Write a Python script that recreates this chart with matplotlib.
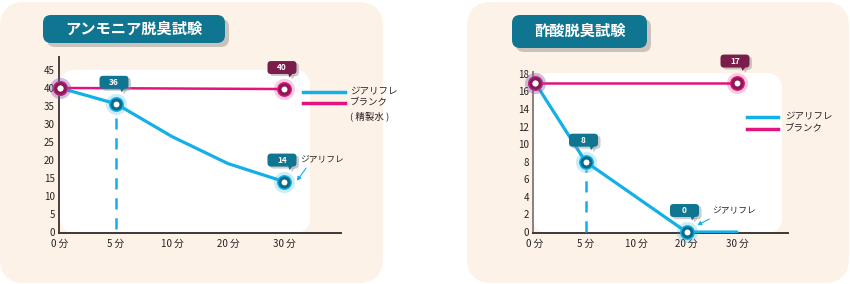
import matplotlib
matplotlib.use('Agg')
import matplotlib.pyplot as plt
import matplotlib.transforms as mtransforms
from matplotlib.patches import FancyBboxPatch, Polygon
from matplotlib.lines import Line2D

plt.rcParams['font.family'] = ['Noto Sans CJK JP', 'DejaVu Sans']

# data
times = ['0 分', '5 分', '10 分', '20 分', '30 分']
xs = [0, 1, 2, 3, 4]

ammonia_title = 'アンモニア脱臭試験'
ammonia_diarifre = [40, 35.6, 26.5, 19, 14]
ammonia_blank_x = [0, 4]
ammonia_blank = [40, 39.7]
ammonia_yticks = [0, 5, 10, 15, 20, 25, 30, 35, 40, 45]

acetic_title = '酢酸脱臭試験'
acetic_diarifre = [17, 8, 4, 0, 0]
acetic_blank_x = [0, 4]
acetic_blank = [17, 17]
acetic_yticks = [0, 2, 4, 6, 8, 10, 12, 14, 16, 18]

CYAN = '#12b0e6'
TEAL = '#0f7590'
PINK = '#e2137e'
MAROON = '#7a1d4c'
PEACH = '#fdf2e8'
TXT = '#262222'

W, H = 850, 284
fig = plt.figure(figsize=(W / 100, H / 100), dpi=100)
fig.patch.set_facecolor('white')

# background layer in pixel coordinates
bg = fig.add_axes([0, 0, 1, 1], zorder=0)
bg.set_xlim(0, W)
bg.set_ylim(H, 0)
bg.axis('off')


def rbox(x0, y0, x1, y1, r, color, **kw):
    bg.add_patch(FancyBboxPatch((x0, y0), x1 - x0, y1 - y0,
                                boxstyle=f'round,pad=0,rounding_size={r}',
                                fc=color, ec='none', **kw))


# panels
rbox(0, 2, 383, 283, 25, PEACH)
rbox(467, 2, 849, 283, 25, PEACH)
# inner white areas
rbox(60, 70, 310, 233, 16, 'white')
rbox(533, 73, 782, 233, 16, 'white')
# title boxes
rbox(47, 19, 229, 47, 8, '#a8a4a0', alpha=0.6)
rbox(43, 15, 225, 43, 8, TEAL)
bg.text(134, 29, ammonia_title, color='white', fontsize=11, fontweight='bold',
        ha='center', va='center')
rbox(516, 19, 651, 52, 8, '#a8a4a0', alpha=0.6)
rbox(512, 15, 647, 48, 8, TEAL)
bg.text(580, 31, acetic_title, color='white', fontsize=11, fontweight='bold',
        ha='center', va='center')

# legends
bg.add_line(Line2D([303, 345], [92, 92], color=CYAN, lw=2.5))
bg.add_line(Line2D([303, 345], [103, 103], color=PINK, lw=2.5))
bg.text(350, 92, 'ジアリフレ', fontsize=6.8, color=TXT, va='center')
bg.text(350, 103, 'ブランク', fontsize=6.8, color=TXT, va='center')
bg.text(350, 116, '( 精製水 )', fontsize=6.8, color=TXT, va='center')
bg.add_line(Line2D([747, 778], [117, 117], color=CYAN, lw=2.5))
bg.add_line(Line2D([747, 778], [129, 129], color=PINK, lw=2.5))
bg.text(785, 117, 'ジアリフレ', fontsize=6.8, color=TXT, va='center')
bg.text(785, 129, 'ブランク', fontsize=6.8, color=TXT, va='center')


def px_axes(x0, y0, x1, y1):
    return fig.add_axes([x0 / W, 1 - y1 / H, (x1 - x0) / W, (y1 - y0) / H], zorder=2)


def marker(ax, x, y, kind):
    if kind == 'blue':
        glow, ring, inner = CYAN, CYAN, '#0c6a86'
    else:
        glow, ring, inner = PINK, PINK, '#8a1a50'
    ax.scatter([x], [y], s=230, color=glow, alpha=0.22, lw=0, zorder=5, clip_on=False)
    ax.scatter([x], [y], s=115, color=ring, lw=0, zorder=6, clip_on=False)
    ax.scatter([x], [y], s=75, color=inner, lw=0, zorder=7, clip_on=False)
    ax.scatter([x], [y], s=18, color='white', lw=0, zorder=8, clip_on=False)


def callout(ax, x, y, text, color):
    trans = fig.dpi_scale_trans + mtransforms.ScaledTranslation(x, y, ax.transData)
    for dx, dy, c, a in [(0.025, -0.02, '#9a9a9a', 0.5), (0, 0, color, 1)]:
        ax.add_patch(FancyBboxPatch((-0.165 + dx, 0.15 + dy), 0.29, 0.13,
                                    boxstyle='round,pad=0,rounding_size=0.035',
                                    fc=c, ec='none', alpha=a, transform=trans,
                                    clip_on=False, zorder=9))
        ax.add_patch(Polygon([(0.04 + dx, 0.16 + dy), (0.09 + dx, 0.16 + dy),
                              (0.055 + dx, 0.115 + dy)], closed=True, fc=c, ec='none',
                             alpha=a, transform=trans, clip_on=False, zorder=9))
    ax.text(-0.02, 0.213, text, transform=trans, color='white', fontsize=6,
            fontweight='bold', ha='center', va='center', zorder=10)


def setup(ax, xlim, ylim, yticks, ycolor):
    ax.set_facecolor('none')
    ax.set_xlim(*xlim)
    ax.set_ylim(*ylim)
    ax.set_xticks(xs)
    ax.set_xticklabels(times)
    ax.set_yticks(yticks)
    for s in ['top', 'right']:
        ax.spines[s].set_visible(False)
    ax.spines['bottom'].set_color('#3f3636')
    ax.spines['bottom'].set_linewidth(1.4)
    ax.spines['left'].set_color(ycolor)
    ax.spines['left'].set_linewidth(1.4)
    ax.tick_params(axis='both', length=0, labelsize=7, labelcolor=TXT)
    ax.tick_params(axis='x', pad=4)
    ax.tick_params(axis='y', pad=3)


# ---- ammonia ----
ax1 = px_axes(59, 57, 341, 233)
setup(ax1, (-0.018, 5.018), (-0.28, 48.6), ammonia_yticks, '#4a4040')
ax1.plot(xs, ammonia_diarifre, color=CYAN, lw=2.3, zorder=3, solid_capstyle='round')
ax1.plot(ammonia_blank_x, ammonia_blank, color=PINK, lw=1.8, zorder=3)
ax1.plot([1, 1], [0.8, ammonia_diarifre[1] - 4], color=CYAN, lw=1.8,
         dashes=(4.5, 3.5), zorder=3)
marker(ax1, 0, ammonia_diarifre[0], 'blue')
marker(ax1, 1, ammonia_diarifre[1], 'blue')
marker(ax1, 4, ammonia_diarifre[4], 'blue')
marker(ax1, 0, ammonia_blank[0], 'pink')
marker(ax1, 4, ammonia_blank[1], 'pink')
callout(ax1, 1, ammonia_diarifre[1], '36', TEAL)
callout(ax1, 4, ammonia_blank[1], '40', MAROON)
callout(ax1, 4, ammonia_diarifre[4], '14', TEAL)
tip1 = mtransforms.offset_copy(ax1.transData, fig, x=13, y=1, units='dots')
ax1.annotate('ジアリフレ', xy=(4, ammonia_diarifre[4]), xycoords=tip1,
             xytext=(18, 15), textcoords='offset points', fontsize=6.3, color=TXT,
             ha='center', va='center', annotation_clip=False,
             arrowprops=dict(arrowstyle='-|>,head_length=0.35,head_width=0.2',
                             color=CYAN, lw=0.8, relpos=(0.2, 0), shrinkA=1, shrinkB=0))

# ---- acetic acid ----
ax2 = px_axes(533, 72, 788, 233)
setup(ax2, (-0.04, 5.01), (-0.11, 18.2), acetic_yticks, '#8a8080')
ax2.plot(xs, acetic_diarifre, color=CYAN, lw=2.3, zorder=3, solid_capstyle='round')
ax2.plot(acetic_blank_x, acetic_blank, color=PINK, lw=1.8, zorder=3)
ax2.plot([1, 1], [0, acetic_diarifre[1] - 1], color=CYAN, lw=1.8,
         dashes=(4.5, 3.5), zorder=3)
marker(ax2, 0, acetic_diarifre[0], 'blue')
marker(ax2, 1, acetic_diarifre[1], 'blue')
marker(ax2, 3, acetic_diarifre[3], 'blue')
marker(ax2, 0, acetic_blank[0], 'pink')
marker(ax2, 4, acetic_blank[1], 'pink')
callout(ax2, 4, acetic_blank[1], '17', MAROON)
callout(ax2, 1, acetic_diarifre[1], '8', TEAL)
callout(ax2, 3, acetic_diarifre[3], '0', TEAL)
tip2 = mtransforms.offset_copy(ax2.transData, fig, x=11, y=7, units='dots')
ax2.annotate('ジアリフレ', xy=(3, acetic_diarifre[3]), xycoords=tip2,
             xytext=(26, 10), textcoords='offset points', fontsize=6.3, color=TXT,
             ha='center', va='center', annotation_clip=False,
             arrowprops=dict(arrowstyle='-|>,head_length=0.35,head_width=0.2',
                             color=CYAN, lw=0.8, relpos=(0.1, 0), shrinkA=1, shrinkB=0))

fig.savefig('out.png', dpi=100)
